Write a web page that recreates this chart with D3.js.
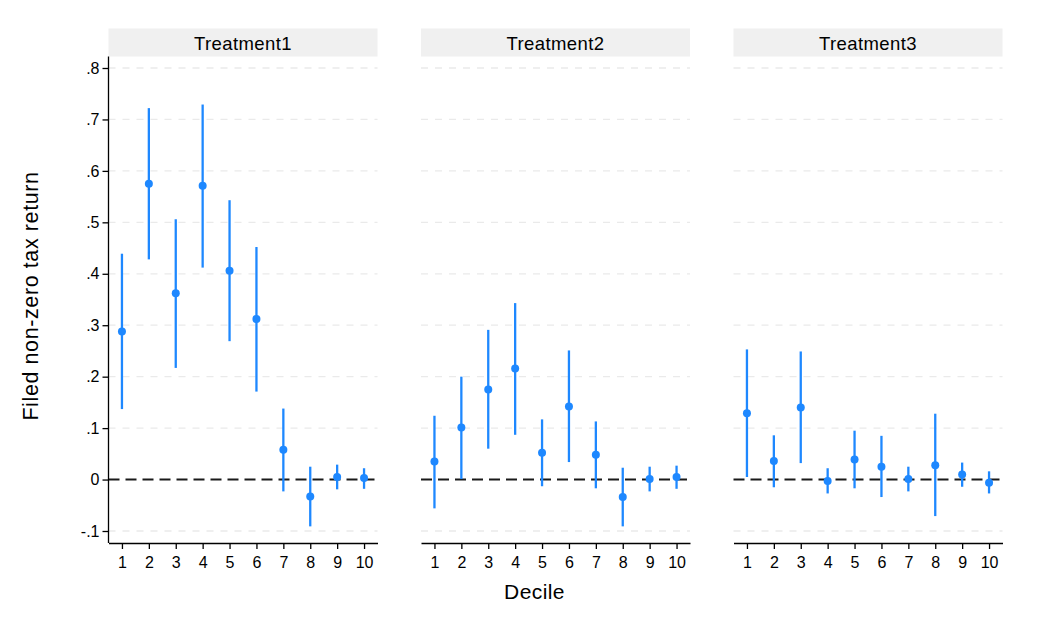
<!DOCTYPE html>
<html>
<head>
<meta charset="utf-8">
<script src="https://cdn.jsdelivr.net/npm/d3@7"></script>
<style>
  body { margin: 0; background: #fff; }
  text { font-family: "Liberation Sans", Arial, sans-serif; fill: #000; }
</style>
</head>
<body>
<div id="chart"></div>
<script>
var deciles = [1, 2, 3, 4, 5, 6, 7, 8, 9, 10];
var treatments = ["Treatment1", "Treatment2", "Treatment3"];
var yTicks = [-0.1, 0, 0.1, 0.2, 0.3, 0.4, 0.5, 0.6, 0.7, 0.8];

var est1 = [0.288, 0.575, 0.362, 0.571, 0.406, 0.312, 0.058, -0.033, 0.005, 0.003];
var lo1  = [0.137, 0.428, 0.217, 0.412, 0.269, 0.171, -0.023, -0.091, -0.019, -0.018];
var hi1  = [0.439, 0.722, 0.506, 0.729, 0.543, 0.452, 0.138, 0.025, 0.029, 0.022];

var est2 = [0.035, 0.101, 0.175, 0.216, 0.052, 0.142, 0.048, -0.034, 0.001, 0.005];
var lo2  = [-0.056, 0.001, 0.060, 0.087, -0.013, 0.034, -0.017, -0.091, -0.023, -0.018];
var hi2  = [0.124, 0.200, 0.291, 0.343, 0.117, 0.251, 0.113, 0.023, 0.025, 0.027];

var est3 = [0.129, 0.036, 0.140, -0.003, 0.039, 0.025, 0.001, 0.028, 0.010, -0.006];
var lo3  = [0.005, -0.015, 0.032, -0.027, -0.017, -0.034, -0.023, -0.071, -0.014, -0.027];
var hi3  = [0.253, 0.086, 0.249, 0.022, 0.095, 0.085, 0.025, 0.128, 0.033, 0.016];

var estAll = [est1, est2, est3];
var loAll = [lo1, lo2, lo3];
var hiAll = [hi1, hi2, hi3];

var width = 1046, height = 628;
var blue = "#1E88FF";

var panelLeft = [108.5, 421, 733.5];
var panelW = 269;
var plotTop = 56.5, plotBottom = 543;
var headerTop = 28.5;

var svg = d3.select("#chart").append("svg")
    .attr("width", width)
    .attr("height", height);

var y = d3.scaleLinear()
    .domain([-0.1, 0.8])
    .range([531, 68]);

treatments.forEach(function(name, p) {
    var x0 = panelLeft[p];
    var x = d3.scaleLinear()
        .domain([0.5, 10.5])
        .range([x0, x0 + panelW]);

    var g = svg.append("g");

    // header strip
    g.append("rect")
        .attr("x", x0)
        .attr("y", headerTop)
        .attr("width", panelW)
        .attr("height", plotTop - headerTop)
        .attr("fill", "#F0F0F0");
    g.append("text")
        .text(name)
        .attr("x", x0 + panelW / 2)
        .attr("y", 49.5)
        .attr("text-anchor", "middle")
        .style("font-size", "18.5px")
        .style("letter-spacing", "0.4px");

    // gridlines
    g.selectAll(".grid")
        .data(yTicks.filter(function(d) { return d !== 0; }))
        .enter().append("line")
        .attr("x1", x0)
        .attr("x2", x0 + panelW)
        .attr("y1", function(d) { return y(d); })
        .attr("y2", function(d) { return y(d); })
        .style("stroke", "#EAEAEA")
        .style("stroke-width", "1.3px")
        .style("stroke-dasharray", "7, 7");

    // zero reference line
    g.append("line")
        .attr("x1", x0)
        .attr("x2", x0 + panelW)
        .attr("y1", y(0))
        .attr("y2", y(0))
        .style("stroke", "#1a1a1a")
        .style("stroke-width", "2px")
        .style("stroke-dasharray", "11, 6");

    // x axis
    var xAxis = d3.axisBottom(x)
        .tickValues(deciles)
        .tickSize(6)
        .tickSizeOuter(0)
        .tickPadding(8);
    var ax = g.append("g")
        .attr("transform", "translate(0," + plotBottom + ")")
        .call(xAxis);
    ax.select(".domain").attr("stroke", "#000").attr("stroke-width", 1.3);
    ax.selectAll(".tick line").attr("stroke", "#000").attr("stroke-width", 1.3);
    ax.selectAll(".tick text")
        .style("font-size", "16px")
        .style("font-family", "'Liberation Sans', Arial, sans-serif");

    // y axis on first panel only
    if (p === 0) {
        var yAxis = d3.axisLeft(y)
            .tickValues(yTicks)
            .tickSize(6)
            .tickSizeOuter(0)
            .tickPadding(3)
            .tickFormat(function(d) {
                if (d === 0) return "0";
                var s = d3.format(".1f")(Math.abs(d)).replace("0.", ".");
                return d < 0 ? "-" + s : s;
            });
        var ay = g.append("g")
            .attr("transform", "translate(" + x0 + ",0)")
            .call(yAxis);
        ay.select(".domain")
            .attr("d", "M0," + plotTop + "V" + plotBottom)
            .attr("stroke", "#000").attr("stroke-width", 1.3);
        ay.selectAll(".tick line").attr("stroke", "#000").attr("stroke-width", 1.3);
        ay.selectAll(".tick text")
            .style("font-size", "16px")
            .style("font-family", "'Liberation Sans', Arial, sans-serif");
    }

    // confidence intervals
    g.selectAll(".ci")
        .data(deciles)
        .enter().append("line")
        .attr("x1", function(d) { return x(d); })
        .attr("x2", function(d) { return x(d); })
        .attr("y1", function(d, i) { return y(loAll[p][i]); })
        .attr("y2", function(d, i) { return y(hiAll[p][i]); })
        .style("stroke", blue)
        .style("stroke-width", "2.3px");

    // point estimates
    g.selectAll(".pt")
        .data(deciles)
        .enter().append("circle")
        .attr("cx", function(d) { return x(d); })
        .attr("cy", function(d, i) { return y(estAll[p][i]); })
        .attr("r", 4)
        .attr("fill", blue);
});

svg.append("text")
    .text("Filed non-zero tax return")
    .attr("text-anchor", "middle")
    .attr("transform", "translate(38,296) rotate(-90)")
    .style("font-size", "21.5px")
    .style("letter-spacing", "0.6px");

svg.append("text")
    .text("Decile")
    .attr("text-anchor", "middle")
    .attr("x", 534.5)
    .attr("y", 599)
    .style("font-size", "21px")
    .style("letter-spacing", "0.4px");
</script>
</body>
</html>
